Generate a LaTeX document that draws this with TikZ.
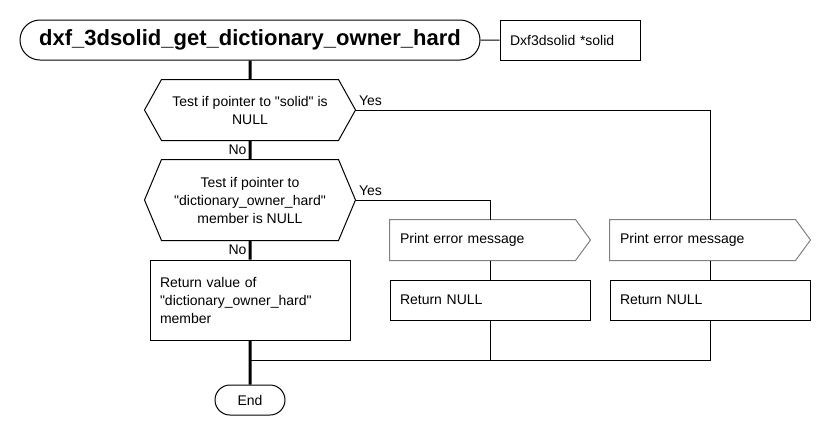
\documentclass[tikz,border=0pt]{standalone}
\usepackage{fontspec}
\setmainfont{Liberation Sans}[Ligatures=TeXOff]
\newcommand{\hexoutline}[2]{\draw (#1.west) -- ([xshift=#2]#1.north west)
  -- ([xshift=-#2]#1.north east) -- (#1.east) -- ([xshift=-#2]#1.south east)
  -- ([xshift=#2]#1.south west) -- cycle;}
\newcommand{\msgoutline}[1]{\draw [gray] (#1.north west) -- ([xshift=-15pt]#1.north east)
  -- (#1.east) -- ([xshift=-15pt]#1.south east) -- (#1.south west) -- cycle;}
\usetikzlibrary{shapes.misc}

\begin{document}
\begin{tikzpicture}[x=1pt,y=-1pt,line width=1pt,inner sep=0pt,
  font=\fontsize{14}{18}\selectfont,
  terminal/.style={draw,shape=rounded rectangle},
  decision/.style={minimum width=210pt,minimum height=60pt,align=center},
  message/.style={minimum width=200pt,minimum height=40pt,text width=180pt,align=left},
  process/.style={draw,minimum width=200pt,text width=180pt,align=left},
  answer/.style={inner xsep=3pt,inner ysep=4pt},
  flow/.style={line width=3pt}]
  \useasboundingbox (0,0) rectangle (830,440);
  \node [terminal,minimum width=460pt,minimum height=40pt,
    font=\fontsize{22}{26}\selectfont\bfseries] (title) at (250,40)
    {dxf\_3dsolid\_get\_dictionary\_owner\_hard};
  \node [draw,minimum width=140pt,minimum height=40pt,text width=120pt,align=left]
    (param) at (570,40) {Dxf3dsolid *solid};
  \node [decision] (solid) at (250,110) {Test if pointer to "solid" is\\NULL};
  \node [decision,minimum height=80pt] (owner) at (250,200)
    {Test if pointer to\\"dictionary\_owner\_hard"\\member is NULL};
  \hexoutline{solid}{17pt}
  \hexoutline{owner}{17pt}
  \node [process,minimum height=80pt] (value) at (250,300)
    {Return value of\\"dictionary\_owner\_hard"\\member};
  \node [message] (errowner) at (490,240) {Print error message};
  \node [process,minimum height=40pt] (nullowner) at (490,300) {Return NULL};
  \node [message] (errsolid) at (710,240) {Print error message};
  \node [process,minimum height=40pt] (nullsolid) at (710,300) {Return NULL};
  \msgoutline{errowner}
  \msgoutline{errsolid}
  \node [terminal,minimum width=70pt,minimum height=30pt] (end) at (250,400) {End};
  \coordinate (merge) at (250,360);
  \node [answer,anchor=south west] (yessolid) at (solid.east) {Yes};
  \node [answer,anchor=north east] (nosolid) at (solid.south) {No};
  \node [answer,anchor=south west] (yesowner) at (owner.east) {Yes};
  \node [answer,anchor=north east] (noowner) at (owner.south) {No};
  \draw (title) -- (param);
  \draw [flow] (title) -- (solid) (solid) -- (owner) (owner) -- (value) (value) -- (end);
  \draw (solid.east) -| (errsolid.north);
  \draw (owner.east) -| (errowner.north);
  \draw (errowner) -- (nullowner) (errsolid) -- (nullsolid);
  \draw (nullowner) |- (merge) (nullsolid) |- (merge);
\end{tikzpicture}
\end{document}
